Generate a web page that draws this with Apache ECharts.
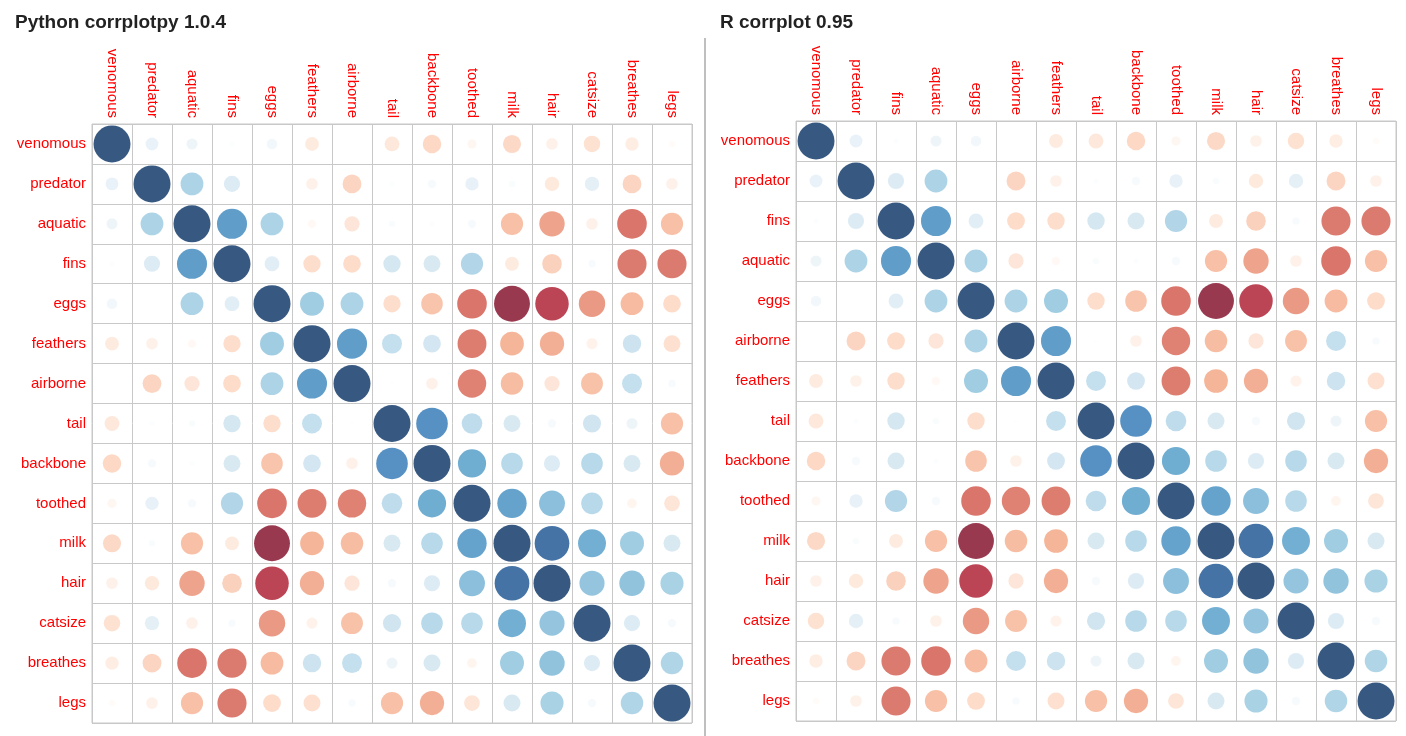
<!DOCTYPE html>
<html>
<head>
<meta charset="utf-8">
<script src="https://cdn.jsdelivr.net/npm/echarts@6/dist/echarts.min.js"></script>
<style>html,body{margin:0;padding:0;background:#fff}#chart{width:1406px;height:736px}</style>
</head>
<body>
<div id="chart"></div>
<script>
// variable order used by the python panel
var pyOrder = ['venomous', 'predator', 'aquatic', 'fins', 'eggs', 'feathers', 'airborne', 'tail',
    'backbone', 'toothed', 'milk', 'hair', 'catsize', 'breathes', 'legs'];
// variable order used by the R panel
var rOrder = ['venomous', 'predator', 'fins', 'aquatic', 'eggs', 'airborne', 'feathers', 'tail',
    'backbone', 'toothed', 'milk', 'hair', 'catsize', 'breathes', 'legs'];

// upper triangle of the correlation matrix (pyOrder), row i holds r(i, j) for j > i
var upper = [
    [0.12, 0.09, 0.02, 0.08, -0.14, 0.0, -0.16, -0.25, -0.06, -0.24, -0.10, -0.20, -0.13, -0.03],
    [0.38, 0.19, 0.0, -0.10, -0.26, 0.02, 0.05, 0.13, 0.03, -0.15, 0.15, -0.26, -0.10],
    [0.66, 0.38, -0.05, -0.17, 0.03, 0.02, 0.05, -0.36, -0.47, -0.10, -0.64, -0.36],
    [0.16, -0.22, -0.23, 0.22, 0.21, 0.36, -0.14, -0.28, 0.04, -0.62, -0.62],
    [0.42, 0.38, -0.22, -0.34, -0.64, -0.94, -0.82, -0.51, -0.38, -0.23],
    [0.66, 0.29, 0.23, -0.61, -0.41, -0.43, -0.09, 0.25, -0.21],
    [0.01, -0.10, -0.59, -0.37, -0.17, -0.35, 0.29, 0.04],
    [0.73, 0.31, 0.21, 0.05, 0.24, 0.09, -0.36],
    [0.58, 0.34, 0.19, 0.34, 0.21, -0.43],
    [0.63, 0.49, 0.34, -0.07, -0.18],
    [0.88, 0.57, 0.42, 0.21],
    [0.46, 0.47, 0.39],
    [0.19, 0.05],
    [0.37]
];

var rdbu = ['#67001F', '#B2182B', '#D6604D', '#F4A582', '#FDDBC7', '#FFFFFF',
    '#D1E5F0', '#92C5DE', '#4393C3', '#2166AC', '#053061'];

function corr(a, b) {
    var i = pyOrder.indexOf(a), j = pyOrder.indexOf(b);
    if (i == j) return 1;
    if (i > j) { var t = i; i = j; j = t; }
    return upper[i][j - i - 1];
}

function cells(order) {
    var out = [];
    for (var y = 0; y < order.length; y++) {
        for (var x = 0; x < order.length; x++) {
            out.push([x, y, corr(order[y], order[x])]);
        }
    }
    return out;
}

var labelStyle = { color: '#ff0000', fontSize: 15, fontFamily: 'Liberation Sans, Arial, sans-serif' };

function makeAxes(order, idx) {
    var x = {
        type: 'category', gridIndex: idx, data: order, position: 'top',
        axisLine: { show: false }, axisTick: { show: false },
        splitLine: { show: true, lineStyle: { color: '#c8c8c8' } },
        axisLabel: Object.assign({ rotate: 90, margin: 6, interval: 0 }, labelStyle)
    };
    var y = {
        type: 'category', gridIndex: idx, data: order, inverse: true,
        axisLine: { show: false }, axisTick: { show: false },
        splitLine: { show: true, lineStyle: { color: '#c8c8c8' } },
        axisLabel: Object.assign({ margin: 6, interval: 0 }, labelStyle)
    };
    return [x, y];
}

var a0 = makeAxes(pyOrder, 0), a1 = makeAxes(rOrder, 1);

function sizeFn(v) { return 37 * Math.sqrt(Math.abs(v[2])); }

var option = {
    animation: false,
    title: [
        { text: 'Python corrplotpy 1.0.4', left: 10, top: 8,
          textStyle: { fontSize: 19, fontWeight: 'bold', color: '#222', fontFamily: 'Liberation Sans, Arial, sans-serif' } },
        { text: 'R corrplot 0.95', left: 715, top: 8,
          textStyle: { fontSize: 19, fontWeight: 'bold', color: '#222', fontFamily: 'Liberation Sans, Arial, sans-serif' } }
    ],
    graphic: [{
        type: 'line', shape: { x1: 705, y1: 38, x2: 705, y2: 736 },
        style: { stroke: '#aaaaaa', lineWidth: 1.5 }
    }],
    grid: [
        { left: 92, top: 124, width: 600, height: 599, show: true, borderColor: '#c8c8c8', borderWidth: 1 },
        { left: 796, top: 121, width: 600, height: 600, show: true, borderColor: '#c8c8c8', borderWidth: 1 }
    ],
    xAxis: [a0[0], a1[0]],
    yAxis: [a0[1], a1[1]],
    visualMap: {
        show: false, type: 'continuous', min: -1, max: 1, dimension: 2,
        seriesIndex: [0, 1], inRange: { color: rdbu }
    },
    series: [
        { type: 'scatter', xAxisIndex: 0, yAxisIndex: 0, data: cells(pyOrder), symbolSize: sizeFn },
        { type: 'scatter', xAxisIndex: 1, yAxisIndex: 1, data: cells(rOrder), symbolSize: sizeFn }
    ]
};

var chart = echarts.init(document.getElementById('chart'));
chart.setOption(option);
</script>
</body>
</html>
